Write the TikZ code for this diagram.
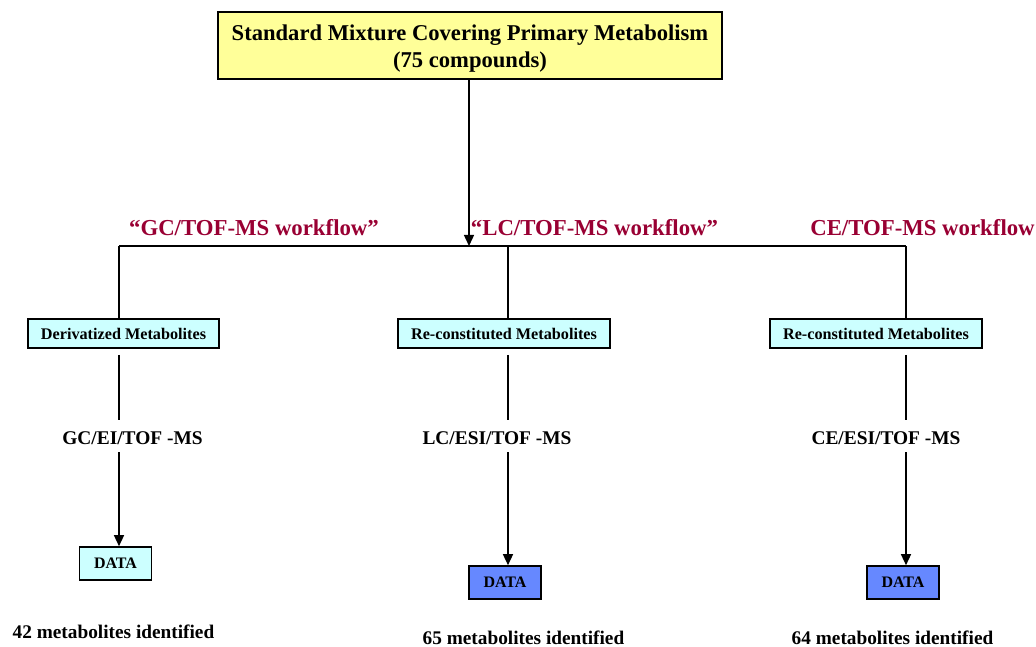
\documentclass[tikz,border=0pt]{standalone}
\usepackage{fontspec}
\setmainfont{Liberation Serif}
\usetikzlibrary{arrows.meta}
\definecolor{paleyellow}{HTML}{FFFF99}
\definecolor{palecyan}{HTML}{CCFFFF}
\definecolor{datablue}{HTML}{6688FF}
\definecolor{wine}{HTML}{990033}
% two centred lines, drawn a little below the middle of their box
\newcommand{\twolines}[2]{\raisebox{-3pt}[\height][\depth]{\begin{tabular}{@{}c@{}}#1\\[1pt]#2\end{tabular}}}
\tikzset{
  titlebox/.style={draw, line width=2pt, fill=paleyellow, minimum width=504pt, minimum height=67pt,
    font=\fontsize{22.6}{26}\selectfont\bfseries, inner sep=0pt},
  prepbox/.style={draw, line width=1.6pt, fill=palecyan, minimum width=212pt, minimum height=29pt,
    font=\fontsize{16.2}{18}\selectfont\bfseries, inner sep=0pt},
  databox/.style={draw, line width=1.6pt, minimum width=72pt, minimum height=33pt,
    font=\fontsize{16}{18}\selectfont\bfseries, inner sep=0pt},
  flowlabel/.style={text=wine, font=\fontsize{22.8}{26}\selectfont\bfseries, inner sep=0pt},
  instrlabel/.style={font=\fontsize{19.4}{22}\selectfont\bfseries, inner sep=0pt},
  countlabel/.style={font=\fontsize{19.3}{22}\selectfont\bfseries, inner sep=0pt},
  link/.style={line width=1.4pt},
  arrowlink/.style={line width=1.4pt, -{Triangle[length=11pt,width=10pt]}},
}
\begin{document}
\begin{tikzpicture}[x=1pt, y=-1pt]
\useasboundingbox (0,0) rectangle (1036,647);

% source
\node[titlebox] (std) at (470,45.5) {\twolines{Standard Mixture Covering Primary Metabolism}{(75 compounds)}};

% distribution bar
\coordinate (barL) at (119,246);
\coordinate (barM) at (469,246);
\coordinate (barR) at (906,246);
\draw[link] (barL) -- (barR);
\draw[arrowlink] (std.south -| barM) -- (barM);

% workflow names
\node[flowlabel] (gcflow) at (254,228) {``GC/TOF-MS workflow''};
\node[flowlabel] (lcflow) at (594.5,228) {``LC/TOF-MS workflow''};
\node[flowlabel] (ceflow) at (922.5,228) {CE/TOF-MS workflow};

% sample preparation
\node[prepbox, minimum width=191pt] (gcprep) at (123.5,333.5) {Derivatized Metabolites};
\node[prepbox] (lcprep) at (504,333.5) {Re-constituted Metabolites};
\node[prepbox] (ceprep) at (876,333.5) {Re-constituted Metabolites};

% instruments
\node[instrlabel] (gcms) at (132.5,438) {GC/EI/TOF -MS};
\node[instrlabel] (lcms) at (497,438) {LC/ESI/TOF -MS};
\node[instrlabel] (cems) at (886,438) {CE/ESI/TOF -MS};

% data
\node[databox, fill=palecyan] (gcdata) at (115.5,563.5) {DATA};
\node[databox, fill=datablue] (lcdata) at (505,582.5) {DATA};
\node[databox, fill=datablue] (cedata) at (903,582.5) {DATA};

% results
\node[countlabel] (gcres) at (113.5,632) {42 metabolites identified};
\node[countlabel] (lcres) at (523.5,638) {65 metabolites identified};
\node[countlabel] (ceres) at (892.5,638) {64 metabolites identified};

% branches
\draw[link] (barL) -- (barL |- gcprep.north);
\draw[link] (barL -| lcprep.north) ++(4,0) coordinate (lcdrop) -- (lcdrop |- lcprep.north);
\draw[link] (barR) -- (barR |- ceprep.north);

\draw[link] (gcprep.south -| barL) ++(0,6) -- (119,420);
\draw[link] (lcprep.south -| lcdrop) ++(0,6) -- (508,420);
\draw[link] (ceprep.south -| barR) ++(0,6) -- (906,420);

\draw[arrowlink] (119,452) -- (gcdata.north -| barL);
\draw[arrowlink] (508,452) -- (lcdata.north -| lcdrop);
\draw[arrowlink] (906,452) -- (cedata.north -| barR);
\end{tikzpicture}
\end{document}
